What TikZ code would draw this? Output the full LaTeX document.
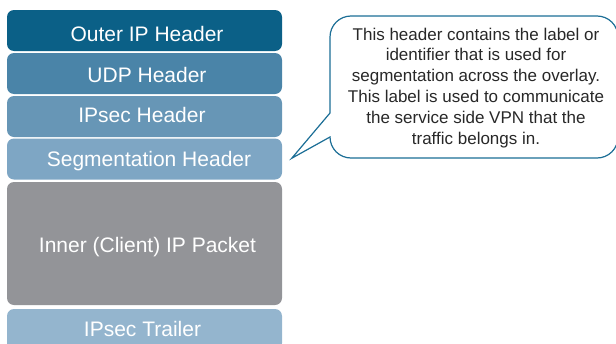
\documentclass[tikz,border=0pt]{standalone}
\usepackage{fontspec}
\setmainfont{Liberation Sans}
\definecolor{outerc}{RGB}{11,96,135}
\definecolor{udpc}{RGB}{74,132,168}
\definecolor{ipsecc}{RGB}{103,150,182}
\definecolor{segc}{RGB}{126,166,196}
\definecolor{innerc}{RGB}{147,148,152}
\definecolor{trailc}{RGB}{148,181,206}
\definecolor{noteline}{RGB}{27,110,150}
\definecolor{notetextc}{RGB}{40,40,40}
\begin{document}
\begin{tikzpicture}[x=1pt,y=-1pt,
  layer/.style={rectangle, rounded corners=7pt, minimum width=275pt,
    minimum height=41pt, inner sep=0pt, draw=none},
  layertext/.style={anchor=base, text=white, inner sep=0pt,
    font=\fontsize{21}{25}\selectfont},
  notebox/.style={draw=noteline, line width=1.2pt, line join=miter, fill=white},
  notetext/.style={anchor=north, align=center, text=notetextc, inner sep=0pt,
    font=\fontsize{17}{20.8}\selectfont}]
\useasboundingbox (0,0) rectangle (616,343);
\clip (0,0) rectangle (616,343);

% packet layers, top to bottom
\node[layer, fill=outerc]  (outer)   at (144.5,30.5) {};
\node[layer, fill=udpc]    (udp)     at (144.5,73.5) {};
\node[layer, fill=ipsecc]  (ipsec)   at (144.5,116.5) {};
\node[layer, fill=segc]    (seg)     at (144.5,159) {};
\node[layer, fill=innerc, minimum height=123pt] (inner) at (144.5,243.5) {};
\node[layer, fill=trailc]  (trailer) at (144.5,329.5) {};

\node[layertext] (outerT)   at (147,41.7)  {Outer IP Header};
\node[layertext] (udpT)     at (147,82.7)  {UDP Header};
\node[layertext] (ipsecT)   at (142,122.7) {IPsec Header};
\node[layertext] (segT)     at (149,166)   {Segmentation Header};
\node[layertext] (innerT)   at (147.5,252.7) {Inner (Client) IP Packet};
\node[layertext] (trailerT) at (142.5,336.7) {IPsec Trailer};

% speech bubble pointing at the segmentation header
\draw[notebox]
  (330,113) -- (291.7,158.3) -- (330,137)
  .. controls (330,148.6) and (339.4,158) .. (351,158)
  -- (597,158)
  .. controls (608.6,158) and (618,148.6) .. (618,137)
  -- (618,37)
  .. controls (618,25.4) and (608.6,16) .. (597,16)
  -- (351,16)
  .. controls (339.4,16) and (330,25.4) .. (330,37)
  -- cycle;

\node[notetext] (note) at (476,27.6)
  {This header contains the label or\\
   identifier that is used for\\
   segmentation across the overlay.\\
   This label is used to communicate\\
   the service side VPN that the\\
   traffic belongs in.};
\end{tikzpicture}
\end{document}
